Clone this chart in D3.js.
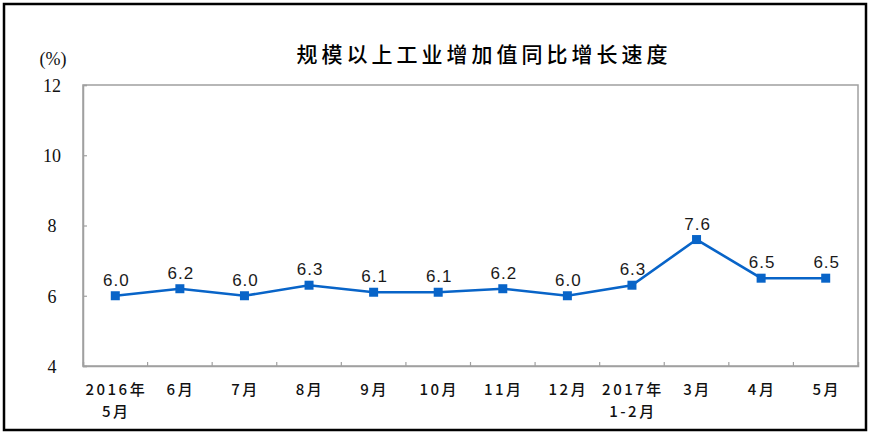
<!DOCTYPE html>
<html><head><meta charset="utf-8">
<script src="https://cdn.jsdelivr.net/npm/d3@7"></script>
<style>
html,body{margin:0;padding:0;background:#fff;}
svg{display:block;}
</style></head>
<body>
<svg id="chart" width="870" height="435"></svg>
<script>
const title = "规模以上工业增加值同比增长速度";
const unitLabel = "(%)";
const categories = ["2016年\n5月","6月","7月","8月","9月","10月","11月","12月","2017年\n1-2月","3月","4月","5月"];
const values = [6.0,6.2,6.0,6.3,6.1,6.1,6.2,6.0,6.3,7.6,6.5,6.5];
const yTicks = [4,6,8,10,12];

const svg = d3.select("#chart");
const m = {left:83, top:85};
const pw = 858 - m.left, ph = 366 - m.top;

// outer frame
svg.append("rect").attr("x",4).attr("y",4).attr("width",862).attr("height",426)
  .attr("fill","#fff").attr("stroke","#000").attr("stroke-width",2.5);

const x = d3.scaleBand().domain(categories).range([m.left, m.left+pw]).paddingInner(0).paddingOuter(0);
const y = d3.scaleLinear().domain([4,12]).range([m.top+ph, m.top]);

// plot frame
svg.append("rect").attr("x",m.left).attr("y",m.top).attr("width",pw).attr("height",ph)
  .attr("fill","none").attr("stroke","#a0a0a0").attr("stroke-width",1.5);

// y axis
const yAxis = d3.axisLeft(y).tickValues(yTicks).tickSize(-4).tickPadding(0).tickFormat(d3.format("d"));
const gy = svg.append("g").attr("transform",`translate(${m.left},0)`).call(yAxis);
gy.select(".domain").attr("stroke","#a0a0a0").attr("stroke-width",1.5);
gy.selectAll(".tick line").attr("stroke","#a0a0a0").attr("stroke-width",1.2);
gy.selectAll(".tick text").attr("x",-31).attr("text-anchor","middle")
  .attr("font-family","'Liberation Serif','Times New Roman',serif").attr("font-size",18)
  .attr("fill","#111").attr("dy","0.35em");

svg.append("text").attr("x",53).attr("y",65).attr("text-anchor","middle")
  .attr("font-family","'Liberation Serif','Times New Roman',serif").attr("font-size",18)
  .attr("fill","#111").text(unitLabel);

// x axis
const xAxis = d3.axisBottom(x).tickSize(-4).tickFormat("");
const gx = svg.append("g").attr("transform",`translate(0,${m.top+ph})`).call(xAxis);
gx.select(".domain").attr("stroke","#a0a0a0").attr("stroke-width",1.5);
gx.selectAll(".tick").attr("transform", d => `translate(${x(d)+x.bandwidth()},0)`);
gx.selectAll(".tick line").attr("stroke","#a0a0a0").attr("stroke-width",1.2)
  .style("display",(d,i)=> i===categories.length-1 ? "none" : null);

const xl = svg.append("g");
categories.forEach(c => {
  c.split("\n").forEach((ln,i) => {
    xl.append("text").attr("text-anchor","middle")
      .attr("font-family","'Noto Sans CJK SC',sans-serif").attr("font-size",15)
      .attr("font-weight",500)
      .attr("letter-spacing","2.5px").attr("fill","#111")
      .attr("x", x(c)+x.bandwidth()/2+1).attr("y", 395 + i*22).text(ln);
  });
});

// title
svg.append("text").attr("x",484).attr("y",62).attr("text-anchor","middle")
  .attr("font-family","'Noto Sans CJK SC',sans-serif").attr("font-size",21)
  .attr("font-weight",500)
  .attr("letter-spacing","4px").attr("fill","#000").text(title);

// line
const color = "#0864c8";
const cx = (d,i) => x(categories[i]) + x.bandwidth()/2;
const line = d3.line().x((d,i)=>cx(d,i)).y(d=>y(d));
svg.append("path").datum(values).attr("d",line).attr("fill","none")
  .attr("stroke",color).attr("stroke-width",2.6);

svg.append("g").selectAll("rect").data(values).join("rect")
  .attr("x",(d,i)=>cx(d,i)-4.5).attr("y",d=>y(d)-4.5).attr("width",9).attr("height",9)
  .attr("fill",color);

svg.append("g").selectAll("text").data(values).join("text")
  .attr("x",(d,i)=>cx(d,i)+1).attr("y",d=>y(d)-10)
  .attr("text-anchor","middle").attr("font-family","'Liberation Sans',Arial,sans-serif")
  .attr("font-size",17).attr("letter-spacing","1px").attr("fill","#1a1a1a")
  .text(d=>d3.format(".1f")(d));
</script>
</body></html>
